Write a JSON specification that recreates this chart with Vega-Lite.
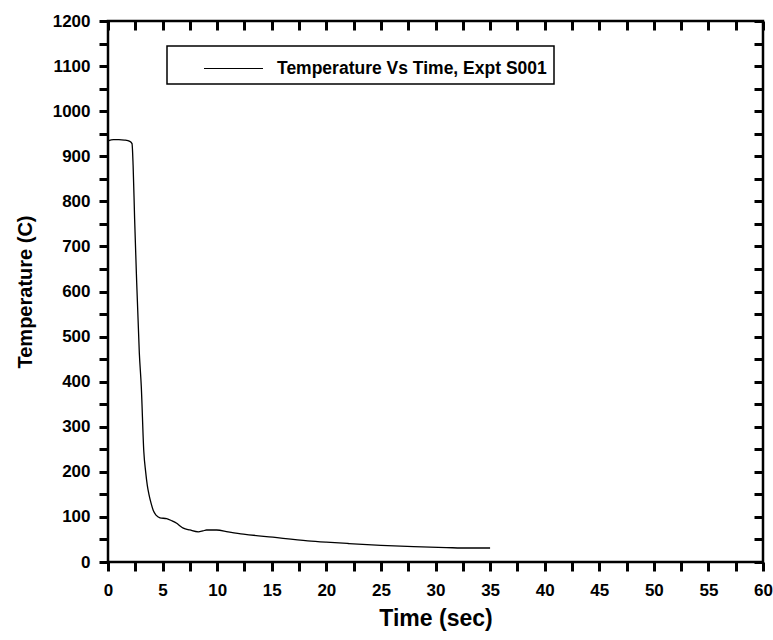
{
  "$schema": "https://vega.github.io/schema/vega-lite/v6.json",
  "width": 655,
  "height": 541,
  "autosize": {"type": "none"},
  "padding": {"left": 108, "top": 21, "right": 10, "bottom": 78},
  "background": "white",
  "config": {
    "view": {"stroke": "black", "strokeWidth": 2.5},
    "axis": {
      "grid": false,
      "domain": false,
      "tickColor": "black",
      "tickWidth": 3,
      "tickOpacity": 1,
      "labelColor": "black",
      "labelFont": "Liberation Sans",
      "labelFontWeight": "bold",
      "labelFontSize": 17,
      "titleFont": "Liberation Sans",
      "titleFontWeight": "bold",
      "titleFontSize": 20,
      "titleColor": "black"
    },
    "legend": {
      "orient": "none",
      "legendX": 59,
      "legendY": 25,
      "strokeColor": "black",
      "strokeWidth": 1.5,
      "padding": 7,
      "symbolType": "M-2,0H2",
      "symbolSize": 870,
      "symbolStrokeWidth": 1,
      "symbolOffset": 44,
      "labelOffset": 28,
      "labelFont": "Liberation Sans",
      "labelFontWeight": "bold",
      "labelFontSize": 17.5,
      "labelColor": "black",
      "labelLimit": 500
    }
  },
  "data": {
    "values": [
      {"t": 0, "T": 934}, {"t": 0.5, "T": 937}, {"t": 1, "T": 937}, {"t": 1.5, "T": 936},
      {"t": 2, "T": 933}, {"t": 2.2, "T": 928}, {"t": 2.3, "T": 880}, {"t": 2.44, "T": 760},
      {"t": 2.6, "T": 640}, {"t": 2.87, "T": 463}, {"t": 3.05, "T": 389}, {"t": 3.28, "T": 245},
      {"t": 3.45, "T": 200}, {"t": 3.6, "T": 170}, {"t": 3.75, "T": 150}, {"t": 3.95, "T": 130},
      {"t": 4.15, "T": 114}, {"t": 4.4, "T": 104}, {"t": 4.76, "T": 98}, {"t": 5.37, "T": 96},
      {"t": 5.8, "T": 92}, {"t": 6.29, "T": 86}, {"t": 6.6, "T": 80}, {"t": 6.9, "T": 75},
      {"t": 7.5, "T": 71}, {"t": 8.27, "T": 67}, {"t": 8.7, "T": 69}, {"t": 9.03, "T": 71},
      {"t": 9.95, "T": 71}, {"t": 11, "T": 67}, {"t": 12.4, "T": 62}, {"t": 15.1, "T": 55},
      {"t": 18.3, "T": 47}, {"t": 20, "T": 44}, {"t": 22, "T": 41}, {"t": 25, "T": 37},
      {"t": 28, "T": 34}, {"t": 31, "T": 32}, {"t": 33, "T": 31}, {"t": 35, "T": 31}
    ]
  },
  "layer": [
    {
      "mark": {"type": "line", "strokeWidth": 1.3, "interpolate": "monotone"},
      "encoding": {
        "x": {
          "field": "t", "type": "quantitative",
          "scale": {"domain": [0, 60], "nice": false, "zero": false},
          "axis": {
            "orient": "bottom",
            "title": "Time (sec)",
            "titleFontSize": 23,
            "titlePadding": 9,
            "values": [0,2.5,5,7.5,10,12.5,15,17.5,20,22.5,25,27.5,30,32.5,35,37.5,40,42.5,45,47.5,50,52.5,55,57.5,60],
            "labelExpr": "datum.value % 5 === 0 ? datum.label : ''",
            "tickSize": 9,
            "labelPadding": 11,
            "labelFlush": false
          }
        },
        "y": {
          "field": "T", "type": "quantitative",
          "scale": {"domain": [0, 1200], "nice": false},
          "axis": {
            "orient": "left",
            "title": "Temperature (C)",
            "titlePadding": 17,
            "values": [0,50,100,150,200,250,300,350,400,450,500,550,600,650,700,750,800,850,900,950,1000,1050,1100,1150,1200],
            "labelExpr": "datum.value % 100 === 0 ? '' + datum.value : ''",
            "tickSize": 9,
            "labelPadding": 9,
            "labelFlush": false
          }
        },
        "color": {
          "datum": "Temperature Vs Time, Expt S001",
          "type": "nominal",
          "scale": {"range": ["black"]},
          "legend": {"title": null}
        }
      }
    },
    {
      "mark": {"type": "line", "opacity": 0},
      "encoding": {
        "x": {
          "field": "t", "type": "quantitative",
          "axis": {
            "orient": "top", "title": null, "labels": false,
            "values": [0,2.5,5,7.5,10,12.5,15,17.5,20,22.5,25,27.5,30,32.5,35,37.5,40,42.5,45,47.5,50,52.5,55,57.5,60],
            "tickSize": -9
          }
        },
        "y": {
          "field": "T", "type": "quantitative",
          "axis": {
            "orient": "right", "title": null, "labels": false,
            "values": [0,50,100,150,200,250,300,350,400,450,500,550,600,650,700,750,800,850,900,950,1000,1050,1100,1150,1200],
            "tickSize": -9
          }
        }
      }
    }
  ],
  "resolve": {"axis": {"x": "independent", "y": "independent"}}
}
